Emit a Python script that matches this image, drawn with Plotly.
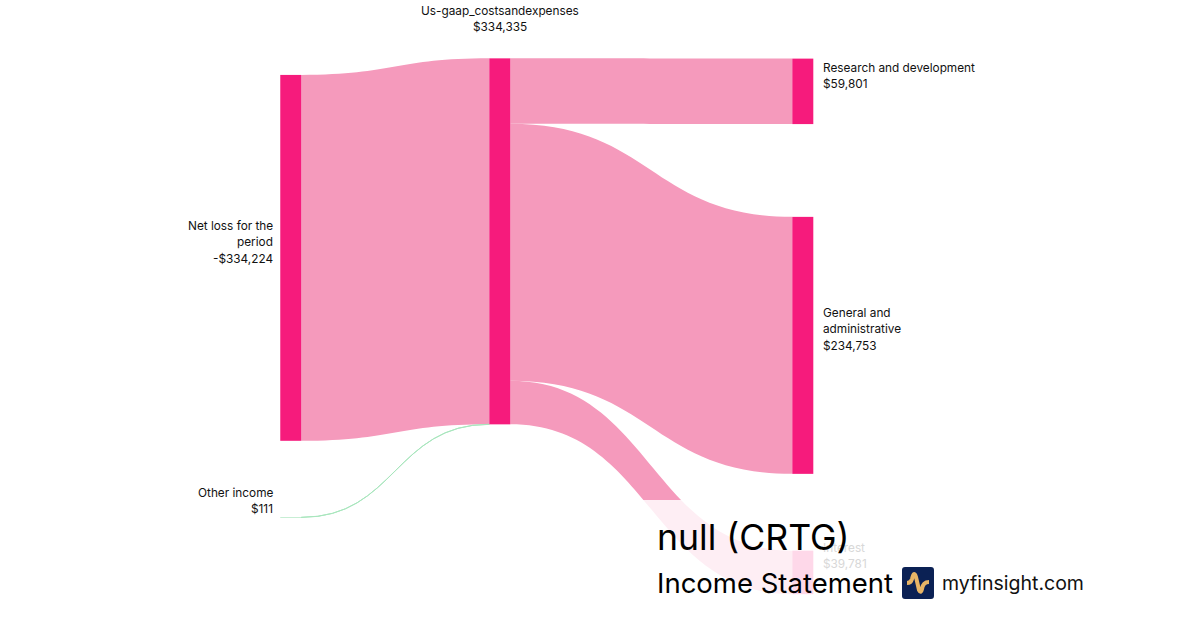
import plotly.graph_objects as go

node_lines = [["Net loss for the", "period"], ["Other income"], ["Us-gaap_costsandexpenses"],
              ["Research and development"], ["General and", "administrative"], ["Interest"]]
node_values = ["-$334,224", "$111", "$334,335", "$59,801", "$234,753", "$39,781"]
node_colors = ["#f61b7c", "#8fdca8", "#f61b7c", "#f61b7c", "#f61b7c", "#f61b7c"]
link_source = [0, 1, 2, 2, 2]
link_target = [2, 2, 3, 4, 5]
link_value = [334224, 111, 59801, 234753, 39781]
link_colors = ["#f59abc", "#a8e6bd", "#f59abc", "#f59abc", "#f59abc"]
node_x = [0.2423, 0.2423, 0.4165, 0.669, 0.669, 0.669]
node_y = [0.4093, 0.8212, 0.3831, 0.145, 0.5482, 0.9086]

fig = go.Figure(go.Sankey(
    arrangement="fixed",
    domain=dict(x=[0, 1], y=[0, 1]),
    node=dict(label=[""] * 6, x=node_x, y=node_y, pad=132, thickness=21,
              color=node_colors, line=dict(width=0)),
    link=dict(source=link_source, target=link_target, value=link_value, color=link_colors),
))

def label(i, x, y_first, xanchor, align, color="#111111"):
    # one annotation per text line, 16.3 px apart
    for k, line in enumerate(node_lines[i] + [node_values[i]]):
        y = y_first + k * 16.3
        fig.add_annotation(text=line, x=x / 1200, y=1 - y / 630,
                           xref="paper", yref="paper", xanchor=xanchor, yanchor="middle", align=align,
                           showarrow=False, font=dict(family="Inter", size=11.8, color=color))

label(0, 275, 226, "right", "right")
label(1, 275, 493, "right", "right")
label(2, 499.5, 11, "center", "center")
label(3, 821, 68, "left", "left")
label(4, 821, 313, "left", "left")

# white translucent panel behind the title block
fig.add_shape(type="rect", xref="paper", yref="paper", x0=600 / 1200, x1=1100 / 1200,
              y0=1 - 610 / 630, y1=1 - 500 / 630, fillcolor="rgba(255,255,255,0.83)",
              line=dict(width=0), layer="above")
label(5, 821, 548, "left", "left", color="#d8d8d8")

fig.add_annotation(text="null (CRTG)", x=655 / 1200, y=1 - 537 / 630, xref="paper", yref="paper",
                   xanchor="left", yanchor="middle", showarrow=False,
                   font=dict(family="Inter", size=35.6, color="#000000"))
fig.add_annotation(text="Income Statement", x=655 / 1200, y=1 - 583 / 630, xref="paper", yref="paper",
                   xanchor="left", yanchor="middle", showarrow=False,
                   font=dict(family="Inter", size=27.5, color="#000000"))
fig.add_annotation(text="myfinsight.com", x=940 / 1200, y=1 - 583 / 630, xref="paper", yref="paper",
                   xanchor="left", yanchor="middle", showarrow=False,
                   font=dict(family="Inter", size=19.5, color="#111111"))

# logo: rounded navy square with a gold pulse line
def px(x, y):
    return f"{x / 1200:.5f},{1 - y / 630:.5f}"

sq = ("M " + px(905, 567) + " L " + px(931, 567) + " Q " + px(934, 567) + " " + px(934, 570)
      + " L " + px(934, 596) + " Q " + px(934, 599) + " " + px(931, 599)
      + " L " + px(905, 599) + " Q " + px(902, 599) + " " + px(902, 596)
      + " L " + px(902, 570) + " Q " + px(902, 567) + " " + px(905, 567) + " Z")
fig.add_shape(type="path", xref="paper", yref="paper", path=sq, fillcolor="#0b2154",
              line=dict(width=0), layer="above")
pulse = ("M " + px(907, 583) + " Q " + px(911, 583) + " " + px(912, 579)
         + " Q " + px(914, 570) + " " + px(916, 577)
         + " L " + px(919, 590) + " Q " + px(921, 594) + " " + px(922, 589)
         + " Q " + px(923, 582) + " " + px(929, 582))
fig.add_shape(type="path", xref="paper", yref="paper", path=pulse,
              line=dict(color="#e8b566", width=4), layer="above")

fig.update_layout(width=1200, height=630, margin=dict(l=0, r=0, t=0, b=0), paper_bgcolor="white",
                  font=dict(family="Inter"))
fig.write_html("out.html", post_script="document.body.style.margin='0';",
               config={"displayModeBar": False})
